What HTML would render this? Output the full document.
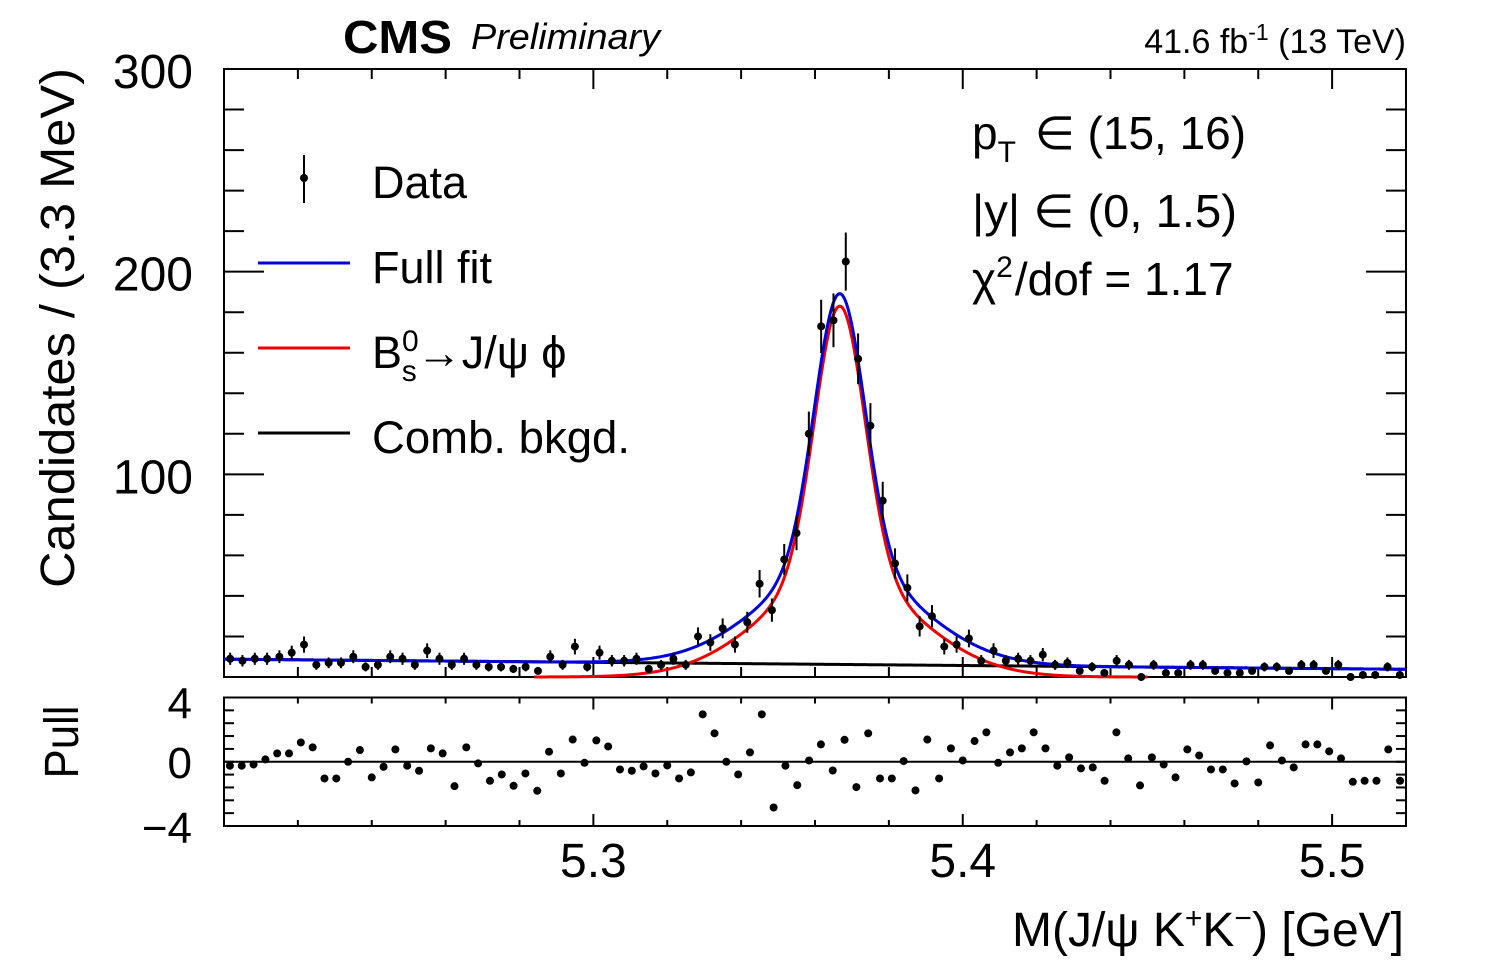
<!DOCTYPE html>
<html><head><meta charset="utf-8">
<style>
html,body{margin:0;padding:0;background:#fff;}
svg{display:block;font-family:"Liberation Sans",Arial,sans-serif;}
</style></head>
<body>
<svg id="chart" width="1496" height="972" viewBox="0 0 1496 972" xmlns="http://www.w3.org/2000/svg">
  <g id="main"></g>
  <g id="pull"></g>
  <text x="343" y="53" font-size="46" font-weight="bold" textLength="109" lengthAdjust="spacingAndGlyphs">CMS</text>
  <text x="471" y="49" font-size="36" font-style="italic" textLength="189" lengthAdjust="spacingAndGlyphs">Preliminary</text>
  <text x="1406" y="53" font-size="34" text-anchor="end">41.6 fb<tspan dy="-13" font-size="23">-1</tspan><tspan dy="13"> (13 TeV)</tspan></text>
  <text transform="translate(74,328) rotate(-90)" font-size="48" text-anchor="middle" textLength="520" lengthAdjust="spacingAndGlyphs">Candidates / (3.3 MeV)</text>
  <text transform="translate(78,742) rotate(-90)" font-size="48" text-anchor="middle" textLength="73" lengthAdjust="spacingAndGlyphs">Pull</text>
  <text x="1404" y="946" font-size="48" text-anchor="end">M(J/ψ K<tspan dy="-18" font-size="30">+</tspan><tspan dy="18">K</tspan><tspan dy="-18" font-size="30">−</tspan><tspan dy="18">) [GeV]</tspan></text>
  <g>
    <g>
      <line x1="304" y1="155" x2="304" y2="203" stroke="#000" stroke-width="2"/>
      <circle cx="304" cy="178" r="4" fill="#000"/>
      <text x="372" y="198" font-size="45">Data</text>
    </g>
    <g>
      <line x1="258" y1="263" x2="350" y2="263" stroke="#0000dd" stroke-width="3"/>
      <text x="372" y="283" font-size="45">Full fit</text>
    </g>
    <g>
      <line x1="258" y1="348" x2="350" y2="348" stroke="#ee0000" stroke-width="3"/>
      <text x="372" y="368" font-size="45">B<tspan dy="-17" font-size="30">0</tspan><tspan dx="-17" dy="30" font-size="30">s</tspan><tspan dy="-13">→J/ψ  ϕ</tspan></text>
    </g>
    <g>
      <line x1="258" y1="433" x2="350" y2="433" stroke="#000" stroke-width="3"/>
      <text x="372" y="453" font-size="45" textLength="258" lengthAdjust="spacingAndGlyphs">Comb. bkgd.</text>
    </g>
  </g>
  <g>
    <text x="972" y="149" font-size="46">p<tspan dy="13" font-size="30">T</tspan><tspan dy="-13" dx="6"> ∈ (15, 16)</tspan></text>
    <text x="972" y="227" font-size="46" textLength="265" lengthAdjust="spacingAndGlyphs">|y| ∈ (0, 1.5)</text>
    <text x="972" y="295" font-size="46">χ<tspan dy="-18" font-size="30">2</tspan><tspan dy="18" dx="2">/dof = 1.17</tspan></text>
  </g>
</svg>
<script>
// ---- data ----
const massMin = 5.20, massMax = 5.52;
const binCount = 96;
const counts = [9,8,9,9,10,12,16,6,7,7,10,5,6,10,9,6,13,9,6,9,6,5,5,4,5,3,10,6,15,5,12,8,8,9,4,6,9,6,
  20,17,24,16,27,46,33,58,71,120,173,176,205,157,124,87,56,44,25,30,15,16,19,8,13,
  8,9,8,11,6,7,3,5,2,8,6,0,6,2,2,6,6,3,2,2,3,5,5,3,6,6,3,6,0,1,1,5,1];
const pullBinCount = 100;
const pulls = [-0.31,-0.31,-0.21,0.18,0.65,0.65,1.5,1.12,-1.3,-1.3,0,0.91,-1.22,-0.39,0.96,-0.31,-0.7,1.04,0.65,-1.9,1.12,-0.13,-1.48,-0.99,-1.87,-0.91,-2.26,0.78,-0.91,1.73,-0.08,1.66,1.19,-0.6,
  -0.7,-0.36,-0.91,-0.29,-1.3,-0.83,3.69,2.21,0,-0.99,0.73,3.69,-3.56,-0.31,-1.82,0.1,1.35,-0.68,1.71,-1.97,2.21,-1.3,-1.3,0.05,-2.23,1.73,-1.3,1.04,0.1,1.61,2.29,-0.08,0.73,
  1.04,2.29,1.04,-0.31,0.34,-0.52,-0.44,-1.48,2.29,0.26,-1.84,0.34,-0.21,-1.22,0.96,0.49,-0.6,-0.6,-1.69,0.03,-1.61,1.27,0.1,-0.44,1.35,1.35,0.81,0.26,-1.56,-1.48,-1.48,0.96,-1.48];
// fit model parameters
const peakMass = 5.3667;
const narrowAmp = [134], narrowSigma = [0.00677];
const wideAmp = [49], wideSigma = [0.0206];
const bkgAtMin = [8.8], bkgAtMax = [3.8];
const yTicks = [0,100,200,300];
const xTickLabels = ["5.3","5.4","5.5"];
const xTickValues = [5.3,5.4,5.5];
const pullTicks = [4,0,-4];
const pullTickLabels = ["4","0","−4"];

// ---- geometry ----
const NS = "http://www.w3.org/2000/svg";
const L = 224, R = 1406, T = 69, B = 677;
const PT = 697.5, PB = 826;
const yMax = 300, pMin = -5, pMax = 5;
const sx = m => L + (m - massMin) / (massMax - massMin) * (R - L);
const sy = v => B - v / yMax * (B - T);
const sp = v => PB - (v - pMin) / (pMax - pMin) * (PB - PT);

function el(tag, attrs, parent) {
  const e = document.createElementNS(NS, tag);
  for (const k in attrs) e.setAttribute(k, attrs[k]);
  parent.appendChild(e);
  return e;
}
const main = document.getElementById('main');
const pull = document.getElementById('pull');

function bkg(m){ return bkgAtMin[0] + (bkgAtMax[0]-bkgAtMin[0])*(m-massMin)/(massMax-massMin); }
function sig(m){ const d=m-peakMass; return narrowAmp[0]*Math.exp(-d*d/(2*narrowSigma[0]*narrowSigma[0])) + wideAmp[0]*Math.exp(-d*d/(2*wideSigma[0]*wideSigma[0])); }

// frames
const f1 = el('rect',{x:L,y:T,width:R-L,height:B-T,fill:'none',stroke:'#000','stroke-width':2},main);


const f2 = el('rect',{x:L,y:PT,width:R-L,height:PB-PT,fill:'none',stroke:'#000','stroke-width':2},pull);



// y ticks main
for (let v=0; v<=300; v+=20) {
  const major = v % 100 === 0;
  const len = major ? 40 : 20;
  const y = sy(v);
  const t1 = el('line',{x1:L,y1:y,x2:L+len,y2:y,stroke:'#000','stroke-width':2},main);
  
  
  const t2 = el('line',{x1:R,y1:y,x2:R-len,y2:y,stroke:'#000','stroke-width':2},main);
  
  
}
yTicks.forEach(v=>{
  if (v===0) return;
  const t = el('text',{x:193,y:sy(v)+19,'font-size':48,'text-anchor':'end'},main);
  t.textContent = v;
  
  
});
// x ticks
for (let i=0;i<=16;i++){
  const m = 5.20 + i*0.02;
  const x = sx(m);
  if (x < L+1 || x > R-1) continue;
  const major = Math.abs(m*10 - Math.round(m*10)) < 1e-6;
  const lm = major ? 20 : 10;
  const lp = major ? 12 : 6;
  [[B,B-lm,main],[T,T+lm,main],[PB,PB-lp,pull],[PT,PT+lp,pull]].forEach(a=>{
    const t = el('line',{x1:x,y1:a[0],x2:x,y2:a[1],stroke:'#000','stroke-width':2},a[2]);
    
    
  });
}
xTickValues.forEach((v,i)=>{
  const t = el('text',{x:sx(v),y:877,'font-size':48,'text-anchor':'middle'},pull);
  t.textContent = xTickLabels[i];
  
  
});
// pull ticks
for (let v=-4; v<=4; v++){
  const len = 10;
  const y = sp(v);
  const t1 = el('line',{x1:L,y1:y,x2:L+len,y2:y,stroke:'#000','stroke-width':2},pull);
  
  
  const t2 = el('line',{x1:R,y1:y,x2:R-len,y2:y,stroke:'#000','stroke-width':2},pull);
  
  
}
pullTicks.forEach((v,i)=>{
  const y = sp(v) + (v>0 ? -8 : (v<0 ? 14 : 0)) + 16;
  const t = el('text',{x:192,y:y,'font-size':44,'text-anchor':'end'},pull);
  t.textContent = pullTickLabels[i];
  
  
});
const zl = el('line',{x1:L,y1:sp(0),x2:R,y2:sp(0),stroke:'#000','stroke-width':2},pull);



// curves
function curvePath(fn, from, to){
  let d=''; const n=600;
  for (let i=0;i<=n;i++){
    const m = from + (to-from)*i/n;
    const v = fn(m);
    d += (i? 'L':'M') + sx(m).toFixed(2) + ',' + Math.min(B, sy(v)).toFixed(2);
  }
  return d;
}
const cb = el('path',{d:curvePath(bkg,massMin,massMax),fill:'none',stroke:'#000','stroke-width':3},main);


const cs = el('path',{d:curvePath(sig,5.284,5.45),fill:'none',stroke:'#ee0000','stroke-width':3},main);


const cf = el('path',{d:curvePath(m=>sig(m)+bkg(m),massMin,massMax),fill:'none',stroke:'#0000dd','stroke-width':3},main);



// data points
const bw = (massMax-massMin)/binCount;
counts.forEach((c,i)=>{
  const m = massMin + (i+0.5)*bw;
  const x = sx(m);
  const err = Math.sqrt(c);
  const g = el('g',{},main);
  
  
  if (c>0) el('line',{x1:x,y1:Math.min(B,sy(c+err)),x2:x,y2:Math.min(B,sy(c-err)),stroke:'#000','stroke-width':2},g);
  el('circle',{cx:x,cy:sy(c),r:4,fill:'#000'},g);
});
const pw = (massMax-massMin)/pullBinCount;
pulls.forEach((p,i)=>{
  const m = massMin + (i+0.5)*pw;
  const c = el('circle',{cx:sx(m),cy:sp(p),r:4,fill:'#000'},pull);
  
  
});
</script>
</body></html>
